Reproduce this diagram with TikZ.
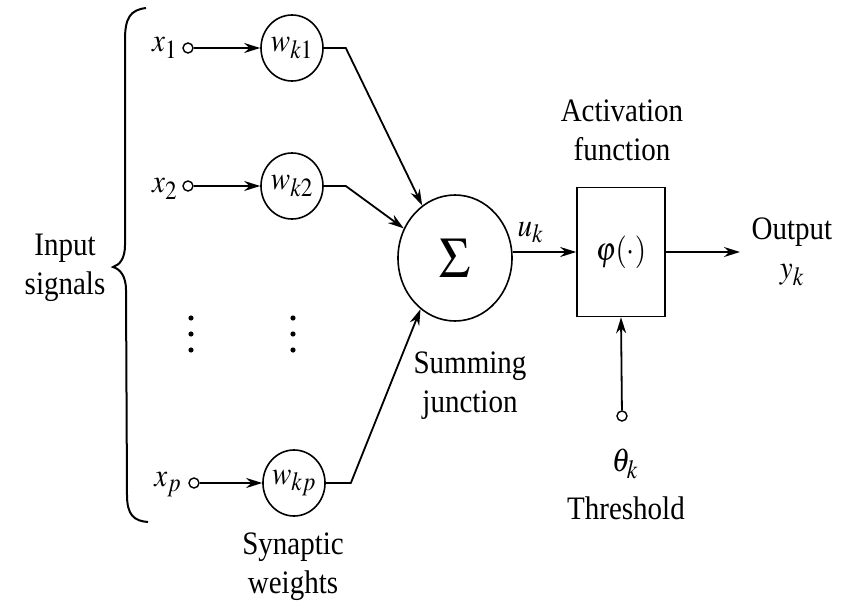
\documentclass[tikz,border=0pt]{standalone}
\usepackage{mathptmx}
\usepackage{graphicx}
\usepackage{fontspec}
\setmainfont{Liberation Serif}
\usetikzlibrary{arrows.meta,shapes.geometric}
\newcommand{\vs}[1]{\scalebox{1}[1.13]{#1}}
\newcommand{\sbx}[1]{\scalebox{0.8}{$\textstyle #1$}}
\begin{document}
\begin{tikzpicture}[x=1pt,y=-1pt,
  font=\fontsize{29}{39}\selectfont,
  line width=1.8pt,
  arr/.style={-{Stealth[length=16pt,width=10pt]}},
  tiny/.style={circle,draw,line width=1.4pt,inner sep=0pt,minimum size=10pt},
  wnode/.style={ellipse,draw,line width=1.6pt,inner sep=0pt,minimum width=62pt,minimum height=66pt},
  lbl/.style={inner sep=0pt,align=center}]
\useasboundingbox (0,0) rectangle (847,605);
% brace
\draw[line width=2pt] (146,8) .. controls (130,10) and (125,18) .. (125,40)
  -- (125,245) .. controls (125,258) and (120,265) .. (113,267)
  .. controls (120,269) and (126,276) .. (126,290)
  -- (127,495) .. controls (127,515) and (134,521) .. (148,522);
\node[lbl] (inp) at (65,268) {\vs{Input}\\\vs{signals}};
% inputs
\node[lbl,anchor=east] (x1l) at (178,48) {\vs{$x_{\sbx{1}}$}};
\node[tiny] (x1) at (188,48) {};
\node[wnode] (w1) at (292,48) {\vs{$w_{\sbx{k1}}$}};
\node[lbl,anchor=east] (x2l) at (178,189) {\vs{$x_{\sbx{2}}$}};
\node[tiny] (x2) at (188,186) {};
\node[wnode] (w2) at (292,186) {\vs{$w_{\sbx{k2}}$}};
\node[lbl,anchor=east] (xpl) at (182,485) {\vs{$x_{\sbx{p}}$}};
\node[tiny] (xp) at (194,483) {};
\node[wnode] (wp) at (294,483) {\vs{$w_{\sbx{kp}}$}};
% dots
\foreach \yy in {318,334,350}{
  \fill (191,\yy) circle (2.6pt);
  \fill (293,\yy) circle (2.6pt);
}
\node[lbl] (syn) at (293,567) {\vs{Synaptic}\\\vs{weights}};
% sum
\node[ellipse,draw,line width=1.6pt,minimum width=114pt,minimum height=126pt,inner sep=0pt] (sum) at (455,258) {\scalebox{1}[1.1]{\fontsize{52}{56}\selectfont$\Sigma$}};
\node[lbl] (sj) at (470,386) {\vs{Summing}\\\vs{junction}};
\draw[arr] (x1) -- (w1);
\draw[arr] (x2) -- (w2);
\draw[arr] (xp) -- (wp);
\draw[arr] (w1.east) -- ++(22,0) coordinate (c1) -- (sum.122);
\draw[arr] (w2.east) -- ++(22,0) coordinate (c2) -- (sum.150);
\draw[arr] (wp.east) -- ++(25,0) coordinate (c3) -- (sum.236);
% activation
\node[draw,line width=1.6pt,minimum width=88pt,minimum height=129pt,inner sep=0pt] (act) at (621,252) {\vs{$\varphi(\cdot)$}};
\node[lbl] (actl) at (622,130) {\vs{Activation}\\\vs{function}};
\draw[arr] (act.west -| sum.east) -- node[pos=0.28,above=8pt,lbl] (uk) {\vs{$u_{\sbx{k}}$}} (act.west);
\coordinate (out) at (740,252);
\draw[arr] (act.east) -- (out);
\node[lbl] (outl) at (792,252) {\vs{Output}\\\vs{$y_{\sbx{k}}$}};
\node[tiny] (th) at (622,416) {};
\draw[arr] (th) -- (act.south);
\node[lbl] (thk) at (625,464) {\vs{$\theta_{\sbx{k}}$}};
\node[lbl] (thl) at (626,508) {\vs{Threshold}};
\end{tikzpicture}
\end{document}
